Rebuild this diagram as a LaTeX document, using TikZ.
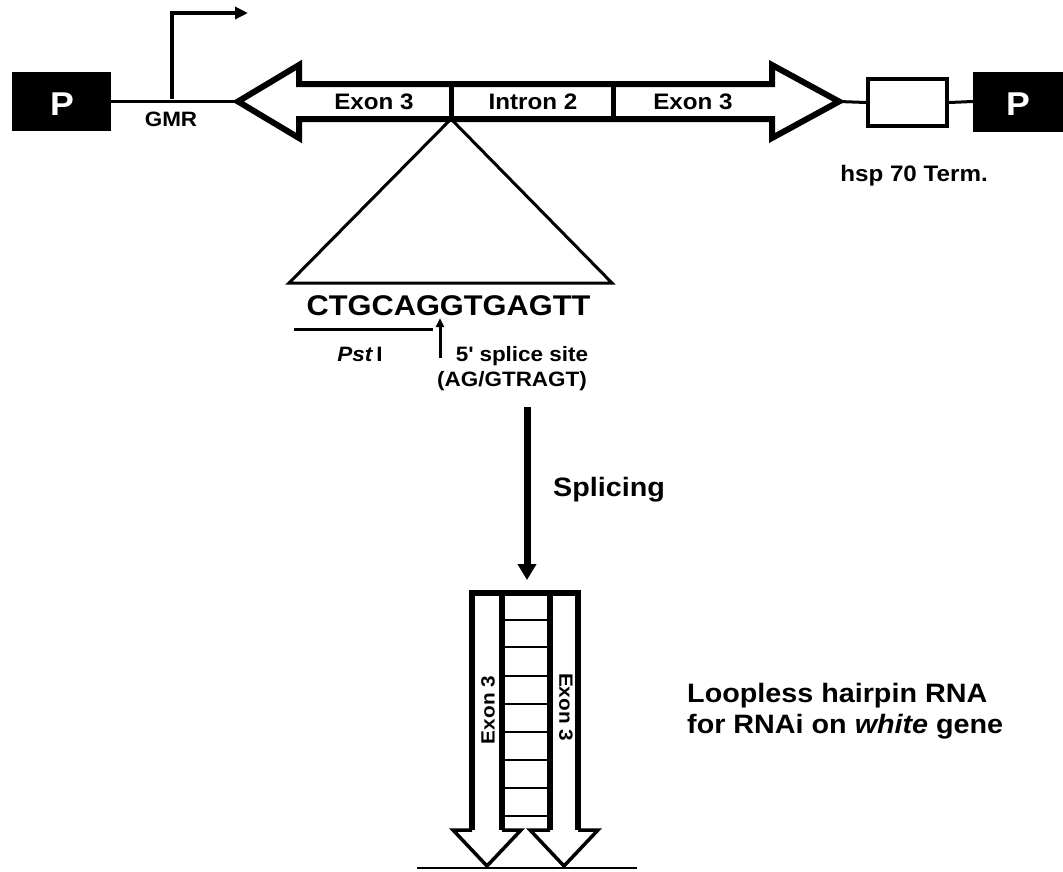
\documentclass[tikz,border=0pt]{standalone}
\usepackage{fontspec}
\setmainfont{Liberation Sans}[FakeStretch=1.08]
\usetikzlibrary{arrows.meta}
\begin{document}
\begin{tikzpicture}[x=1pt,y=-1pt,
  lab/.style={font=\bfseries\fontsize{22.4}{26}\selectfont, inner sep=0pt, anchor=base},
  small/.style={font=\bfseries\fontsize{20.8}{24}\selectfont, inner sep=0pt, anchor=base},
  big/.style={font=\bfseries\fontsize{26.6}{31}\selectfont, inner sep=0pt, anchor=base west},
  pbox/.style={fill=black, draw=black, text=white, inner sep=0pt, font=\bfseries\fontsize{33}{37}\selectfont},
  thickout/.style={line width=6pt, line join=miter, miter limit=10},
  thinline/.style={line width=3pt},
  rung/.style={line width=2pt}
]
\useasboundingbox (0,0) rectangle (1063,871);

% promoter boxes and terminator
\node[pbox, minimum width=98pt, minimum height=58pt] (p1) at (61,101.5) {};
\node[pbox, anchor=base] (p1t) at (62,115) {P};
\node[pbox, minimum width=90pt, minimum height=59pt] (p2) at (1018,101.5) {};
\node[pbox, anchor=base] (p2t) at (1018,115) {P};
\node[draw, line width=4pt, minimum width=79pt, minimum height=47pt, inner sep=0pt] (term) at (907.5,102.5) {};

% big double arrow
\coordinate (tipL) at (238,101.5);
\coordinate (tipR) at (839,101.5);
\draw[thickout] (tipL) -- (299,65) -- (299,84) -- (772,84) -- (772,65) -- (tipR)
  -- (772,138) -- (772,119) -- (299,119) -- (299,138) -- cycle;
\coordinate (d1t) at (451,84); \coordinate (d1b) at (451,119);
\coordinate (d2t) at (613,84); \coordinate (d2b) at (613,119);
\draw[line width=5pt] (d1t) -- (d1b);
\draw[line width=5pt] (d2t) -- (d2b);

% connecting lines
\draw[thinline] (p1.east) -- (tipL);
\draw[thinline] (tipR) -- (term.west);
\draw[thinline] (term.east) -- (p2.west);

% transcription start arrow
\coordinate (tss) at (172,99);
\coordinate (tssend) at (248,13);
\draw[line width=4pt, -{Triangle[length=13pt,width=12pt]}] (tss) |- (tssend);

% labels top
\node[small] (gmr) at (171,126) {GMR};
\node[lab] (ex1) at (374,109) {Exon 3};
\node[lab] (in2) at (533,109) {Intron 2};
\node[lab] (ex2) at (693,109) {Exon 3};
\node[lab] (hsp) at (914,181) {hsp 70 Term.};

% zoom triangle
\coordinate (bl) at (289,283);
\coordinate (br) at (612,283);
\draw[line width=3pt, line join=miter] (d1b) -- (bl) -- (br) -- cycle;

% sequence
\node[font=\bfseries\fontsize{28.5}{32}\selectfont, inner sep=0pt, anchor=base] (seq) at (448.5,315) {CTGCAGGTGAGTT};
\coordinate (pstL) at (294,329);
\coordinate (pstR) at (433,329);
\draw[thinline] (pstL) -- (pstR);
\coordinate (ssb) at (440,358);
\coordinate (sst) at (440,318);
\draw[line width=3pt, -{Triangle[length=9pt,width=8pt]}] (ssb) -- (sst);
\node[small] (pst) at (360,361) {\textit{Pst}\,I};
\node[small] (ss) at (522,361) {5\textquotesingle\ splice site};
\node[small] (agg) at (512,386) {(AG/GTRAGT)};

% splicing arrow
\coordinate (spa) at (527,407);
\coordinate (spb) at (527,580);
\draw[line width=7pt, -{Triangle[length=16pt,width=18pt]}] (spa) -- (spb);
\node[big] (spl) at (553,496) {Splicing};

% hairpin
\draw[thickout] (472,831.5) -- (472,593) -- (578,593) -- (578,831.5);
\draw[line width=6pt] (502,593) -- (502,831.5);
\draw[line width=6pt] (550,593) -- (550,831.5);
\foreach \yy in {620,647,676,704,732,760,788,816} {
  \draw[rung] (505,\yy) -- (547,\yy);
}
\draw[line width=3.5pt, line join=miter, fill=white] (472,830) -- (453,830) -- (487,866) -- (521,830) -- (502,830);
\draw[line width=3.5pt, line join=miter, fill=white] (550,830) -- (530,830) -- (564,866) -- (598,830) -- (578,830);
\coordinate (baseL) at (417,868);
\coordinate (baseR) at (637,868);
\draw[line width=2.5pt] (baseL) -- (baseR);
\node[font=\bfseries\fontsize{19.2}{23}\selectfont, inner sep=0pt, rotate=90] (hx1) at (488,710) {Exon 3};
\node[font=\bfseries\fontsize{19.2}{23}\selectfont, inner sep=0pt, rotate=-90] (hx2) at (566,707) {Exon 3};

% right caption
\node[big] (cap1) at (687,702) {Loopless hairpin RNA};
\node[big] (cap2) at (687,733) {for RNAi on \textit{white} gene};
\end{tikzpicture}
\end{document}
